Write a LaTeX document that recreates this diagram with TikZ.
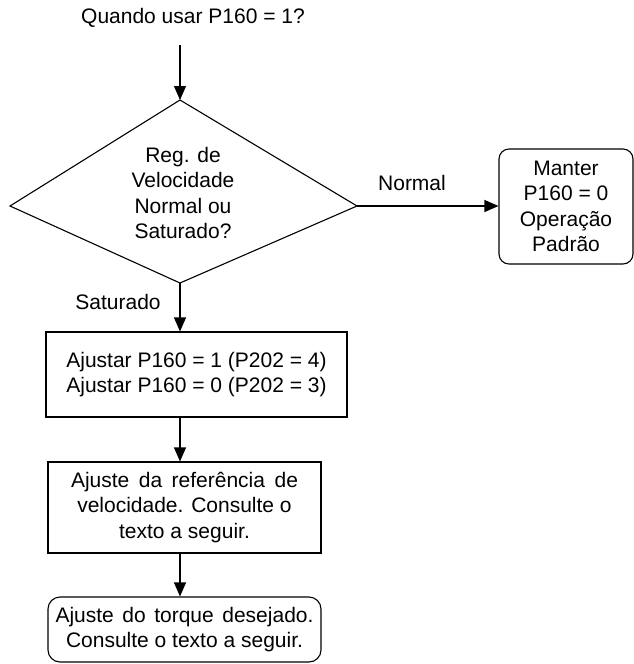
\documentclass[tikz,border=0pt]{standalone}
\usepackage{fontspec}
\setmainfont{Liberation Sans}
\usetikzlibrary{arrows.meta}
\begin{document}
\begin{tikzpicture}[x=1pt,y=-1pt, line width=1.1pt,
  txt/.style={font=\fontsize{21}{25.5}\selectfont, inner sep=0pt, align=center},
  box/.style={txt, draw, rectangle},
  rbox/.style={box, rounded corners=10pt},
  arr/.style={-{Triangle[length=14pt,width=12pt]}}]
\useasboundingbox (0,0) rectangle (634,664);

\node[txt] (title) at (193,18) {Quando usar P160 = 1?};
\coordinate (start) at (180,45);

% diamond
\coordinate (dt) at (180,100);
\coordinate (dr) at (357,206);
\coordinate (db) at (180,283);
\coordinate (dl) at (10,206);
\draw (dt) -- (dr) -- (db) -- (dl) -- cycle;
\node[txt] (dtext) at (183,193) {Reg. de\\Velocidade\\Normal ou\\Saturado?};

\node[rbox, minimum width=134pt, minimum height=115pt] (keep) at (566,206.5)
  {Manter\\P160 = 0\\Operação\\Padrão};

\node[box, minimum width=301pt, minimum height=85pt] (b1) at (196.5,374.5)
  {Ajustar P160 = 1 (P202 = 4)\\Ajustar P160 = 0 (P202 = 3)};

\node[box, minimum width=273pt, minimum height=91pt] (b2) at (184.5,507.5)
  {\makebox[227pt][s]{Ajuste da referência de}\\velocidade. Consulte o\\texto a seguir.};

\node[rbox, rounded corners=12pt, minimum width=273pt, minimum height=65pt] (b3) at (184.5,629.5)
  {\makebox[258pt][s]{Ajuste do torque desejado.}\\Consulte o texto a seguir.};

\node[txt] (lnormal) at (412,183) {Normal};
\node[txt] (lsat) at (118,302) {Saturado};

\draw[arr] (start) -- (dt);
\draw[arr] (dr) -- (keep.west |- dr);
\draw[arr] (db) -- (db |- b1.north);
\draw[arr] (b1.south -| db) -- (b2.north -| db);
\draw[arr] (b2.south -| db) -- (b3.north -| db);
\end{tikzpicture}
\end{document}
